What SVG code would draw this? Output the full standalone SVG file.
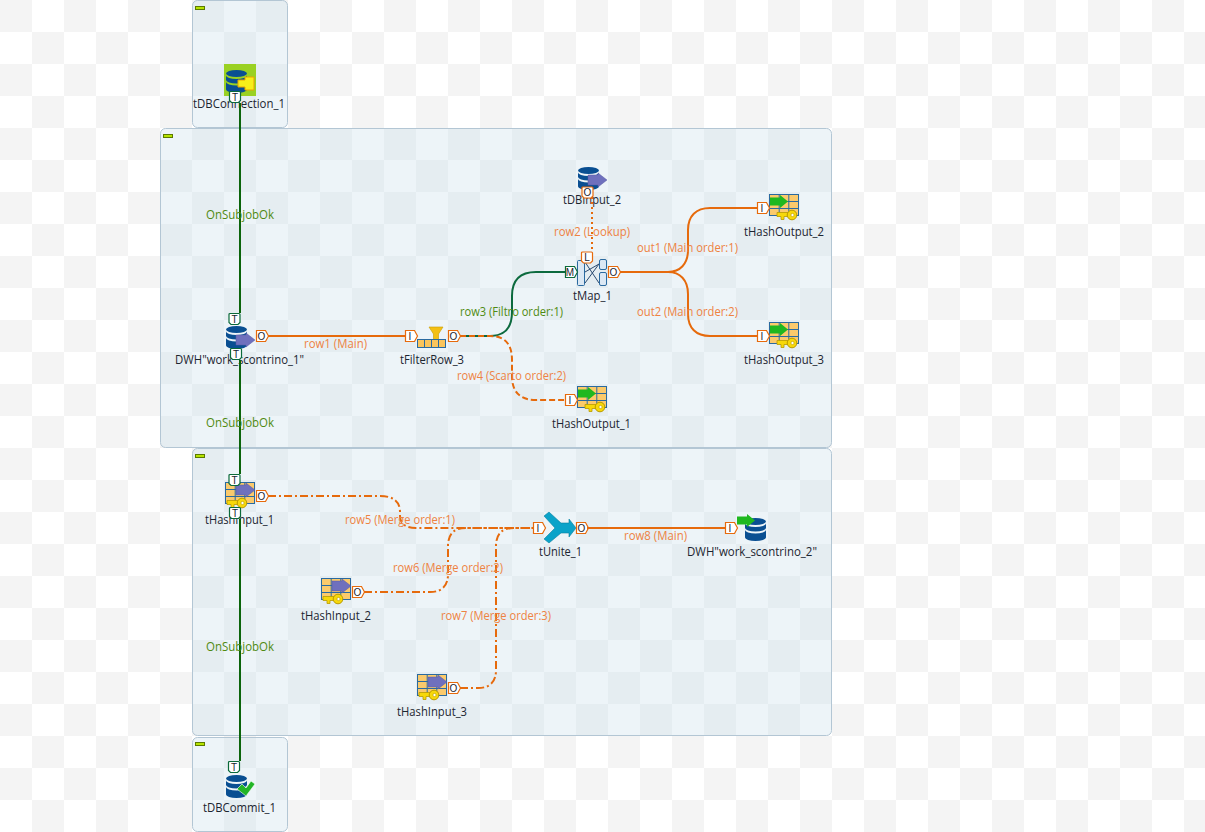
<svg xmlns="http://www.w3.org/2000/svg" width="1205" height="832" viewBox="0 0 1205 832">
<style>
text{font-family:"Open Sans","Noto Sans","Liberation Sans",sans-serif;font-size:12px}
.n{fill:#1c2530}
.l{fill:#ee8242}
.s{fill:#4f8a10}
.p{font-size:10px;fill:#1c2530;text-anchor:middle;font-family:"Liberation Sans",sans-serif}
.sj{fill:url(#cs);stroke:#b3c6d4;stroke-width:1}
.mn{fill:#b6e400;stroke:#5c7a00;stroke-width:1}
.e{fill:none;stroke:#e66a0c;stroke-width:2}
.g{fill:none;stroke:#0b640b;stroke-width:2}
.dd{stroke-dasharray:8 3 2 3}
.da{stroke-dasharray:6 3}
.do{stroke-dasharray:2 3}
.po{fill:#fff;stroke:#e66a0c;stroke-width:1.2}
.pg{fill:#fff;stroke:#0b6a3a;stroke-width:1.2}
.b{fill:#0a4f92}
.t{fill:#dbe8f4;stroke:#2a6aa0}
</style>
<defs>
<pattern id="cb" width="64" height="64" patternUnits="userSpaceOnUse"><rect width="64" height="64" fill="#ffffff"/><rect width="32" height="32" fill="#f4f4f4"/><rect x="32" y="32" width="32" height="32" fill="#f4f4f4"/></pattern>
<pattern id="cs" width="64" height="64" patternUnits="userSpaceOnUse"><rect width="64" height="64" fill="#edf4f8"/><rect width="32" height="32" fill="#e5edf1"/><rect x="32" y="32" width="32" height="32" fill="#e5edf1"/></pattern>
<g id="db"><path class="b" d="M0 3.500A10.500 3.500 0 0 1 21 3.500A10.500 3.500 0 0 1 0 3.500Z"/><path class="b" d="M0 5.500A10.500 3.500 0 0 0 21 5.500V10A10.500 3.500 0 0 1 0 10Z"/><path class="b" d="M0 12A10.500 3.500 0 0 0 21 12V19.500A10.500 3.500 0 0 1 0 19.500Z"/></g>
<path id="pa" d="M0 2H10V0L19 7L10 14V12H0Z" fill="#6f70bd" stroke="#5a5ba5" stroke-width=".5"/>
<path id="ga" d="M0 2.500H10V0L18 6.500L10 13V10.500H0Z" fill="#1fb81f"/>
<g id="grid"><rect width="29" height="21" fill="#fbca6c" stroke="#2a6aa0"/><path d="M9.700 0V21M19.300 0V21M0 7H29M0 14H29" stroke="#2a6aa0" fill="none"/></g>
<g id="key"><path d="M0 2.500H12V6.500H7V9.500H4V6.500H0Z" fill="#f7d80a" stroke="#b89a00" stroke-width=".8"/><circle cx="15" cy="5" r="4.800" fill="#f7d80a" stroke="#b89a00"/><circle cx="15.500" cy="5" r="1.600" fill="#fff" stroke="#b89a00" stroke-width=".6"/></g>
<path id="pr" d="M0 0H9L12 5.500L9 11H0Z"/>
<path id="pt" d="M1 0H10Q11 0 11 1V9L9 11H2L0 9V1Q0 0 1 0Z"/>
</defs>
<rect id="canvas" width="1205" height="832" fill="url(#cb)"/>
<g id="subjobs">
<rect class="sj" x="192.500" y="0.500" width="95" height="127" rx="5"/><rect class="mn" x="195.500" y="6.500" width="9" height="3"/>
<rect class="sj" x="160.500" y="128.500" width="671" height="319" rx="5"/><rect class="mn" x="163.500" y="134.500" width="9" height="3"/>
<rect class="sj" x="192.500" y="448.500" width="639" height="287" rx="5"/><rect class="mn" x="195.500" y="454.500" width="9" height="3"/>
<rect class="sj" x="192.500" y="737.500" width="95" height="94" rx="5"/><rect class="mn" x="195.500" y="742.500" width="9" height="3"/>
</g>
<g id="tDBConnection_1"><rect x="224" y="64" width="32" height="32" fill="#9ad122"/><use href="#db" x="226" y="70"/><path d="M238 80H245V77H254V90H245V87H238Z" fill="#f7ee1a" stroke="#e8a500" stroke-width="1"/>
<text class="n" x="193" y="108" textLength="92" lengthAdjust="spacingAndGlyphs">tDBConnection_1</text><use href="#pt" class="pg" x="229.500" y="91.500"/><text class="p" x="235" y="100.500">T</text></g>
<g id="DWH_work_scontrino_1"><use href="#db" x="226" y="326"/><use href="#pa" x="236" y="333"/><text class="n" x="175" y="364" textLength="129" lengthAdjust="spacingAndGlyphs">DWH"work_scontrino_1"</text>
<use href="#pt" class="pg" x="229" y="313.500"/><text class="p" x="234.500" y="322.500">T</text><use href="#pt" class="pg" x="230.500" y="348.500"/><text class="p" x="236" y="357.500">T</text><use href="#pr" class="po" x="256.500" y="330.500"/><text class="p" x="261.500" y="339.500">O</text></g>
<g id="tFilterRow_3"><path d="M429 327H443L438.500 334V343H433.500V334Z" fill="#f4c015" stroke="#c99a00" stroke-width=".6"/><rect x="417.500" y="339.500" width="28" height="8" fill="#fbc55c" stroke="#2a6aa0"/><path d="M424.500 339.500V347.500M431.500 339.500V347.500M438.500 339.500V347.500" stroke="#2a6aa0"/>
<text class="n" x="400" y="364" textLength="64" lengthAdjust="spacingAndGlyphs">tFilterRow_3</text><use href="#pr" class="po" x="405.500" y="330.500"/><text class="p" x="410" y="339.500">I</text><use href="#pr" class="po" x="448.500" y="330.500"/><text class="p" x="453.500" y="339.500">O</text></g>
<g id="tDBInput_2"><use href="#db" x="578" y="167"/><use href="#pa" x="588" y="173"/><text class="n" x="563" y="204" textLength="58" lengthAdjust="spacingAndGlyphs">tDBInput_2</text><use href="#pt" class="po" x="582" y="187"/><text class="p" x="587.500" y="196">O</text></g>
<g id="tMap_1"><rect class="t" x="577.500" y="260.500" width="7" height="25" rx="1"/><rect class="t" x="599.500" y="259.500" width="7" height="10" rx="1.500"/><rect class="t" x="599.500" y="272.500" width="7" height="13" rx="1.500"/><path d="M585 262L599 283M585 283L599 264M585 272L599 264" stroke="#2a4a70" fill="none"/>
<text class="n" x="573" y="300" textLength="39" lengthAdjust="spacingAndGlyphs">tMap_1</text><use href="#pr" class="pg" x="565.500" y="266.500"/><text class="p" x="570" y="275.500">M</text><use href="#pt" class="po" x="581.500" y="252"/><text class="p" x="587" y="261">L</text><use href="#pr" class="po" x="608.500" y="266.500"/><text class="p" x="613.500" y="275.500">O</text></g>
<g id="tHashOutput_2"><use href="#grid" x="769.500" y="194.500"/><use href="#ga" x="770" y="195"/><use href="#key" x="777" y="210"/><text class="n" x="744" y="236" textLength="80" lengthAdjust="spacingAndGlyphs">tHashOutput_2</text><use href="#pr" class="po" x="757.500" y="202.500"/><text class="p" x="762" y="211.500">I</text></g>
<g id="tHashOutput_3"><use href="#grid" x="769.500" y="322.500"/><use href="#ga" x="770" y="323"/><use href="#key" x="777" y="338"/><text class="n" x="744" y="364" textLength="80" lengthAdjust="spacingAndGlyphs">tHashOutput_3</text><use href="#pr" class="po" x="757.500" y="330.500"/><text class="p" x="762" y="339.500">I</text></g>
<g id="tHashOutput_1"><use href="#grid" x="577.500" y="386.500"/><use href="#ga" x="578" y="387"/><use href="#key" x="585" y="402"/><text class="n" x="552" y="428" textLength="79" lengthAdjust="spacingAndGlyphs">tHashOutput_1</text><use href="#pr" class="po" x="565.500" y="394.500"/><text class="p" x="570" y="403.500">I</text></g>
<g id="tHashInput_1"><use href="#grid" x="225.500" y="482.500"/><use href="#pa" x="236" y="483"/><use href="#key" x="227" y="498"/><text class="n" x="205" y="524" textLength="69" lengthAdjust="spacingAndGlyphs">tHashInput_1</text>
<use href="#pt" class="pg" x="229" y="474.500"/><text class="p" x="234.500" y="483.500">T</text><use href="#pt" class="pg" x="229.500" y="507.500"/><text class="p" x="235" y="516.500">T</text><use href="#pr" class="po" x="256.500" y="490.500"/><text class="p" x="261.500" y="499.500">O</text></g>
<g id="tHashInput_2"><use href="#grid" x="321.500" y="578.500"/><use href="#pa" x="332" y="579"/><use href="#key" x="323" y="594"/><text class="n" x="301" y="620" textLength="70" lengthAdjust="spacingAndGlyphs">tHashInput_2</text><use href="#pr" class="po" x="352.500" y="586.500"/><text class="p" x="357.500" y="595.500">O</text></g>
<g id="tHashInput_3"><use href="#grid" x="417.500" y="674.500"/><use href="#pa" x="428" y="675"/><use href="#key" x="419" y="690"/><text class="n" x="397" y="716" textLength="70" lengthAdjust="spacingAndGlyphs">tHashInput_3</text><use href="#pr" class="po" x="448.500" y="682.500"/><text class="p" x="453.500" y="691.500">O</text></g>
<g id="tUnite_1"><path d="M544 516L549 512L561 523H569V519L576 528L569 537V533H561L549 543L544 539L555 528Z" fill="#0ba3c9" stroke="#0a7fa0" stroke-width=".6"/><text class="n" x="539" y="556" textLength="43" lengthAdjust="spacingAndGlyphs">tUnite_1</text><use href="#pr" class="po" x="533.500" y="522.500"/><text class="p" x="538" y="531.500">I</text><use href="#pr" class="po" x="576.500" y="522.500"/><text class="p" x="581.500" y="531.500">O</text></g>
<g id="DWH_work_scontrino_2"><use href="#db" x="745" y="518"/><use href="#ga" x="737" y="514"/><text class="n" x="687" y="556" textLength="130" lengthAdjust="spacingAndGlyphs">DWH"work_scontrino_2"</text><use href="#pr" class="po" x="725.500" y="522.500"/><text class="p" x="730" y="531.500">I</text></g>
<g id="tDBCommit_1"><use href="#db" x="226" y="775"/><path d="M237 789L242 784L246 788L251 781L255 784L246 796Z" fill="#22b526" stroke="#fff" stroke-width=".6"/><text class="n" x="203" y="812" textLength="73" lengthAdjust="spacingAndGlyphs">tDBCommit_1</text><use href="#pt" class="pg" x="228.500" y="761.500"/><text class="p" x="234" y="770.500">T</text></g>
<g id="connectors">
<path class="g" d="M240 103V313"/><path class="g" d="M240 360V474"/><path class="g" d="M240 519V761"/>
<path class="e" d="M268 336H405"/>
<path fill="none" stroke="#0c6a3e" stroke-width="2" d="M460 336H490C505 336 512 328 512 312V296C512 280 520 272 536 272H565"/>
<path class="e da" d="M460 336H490C505 336 512 344 512 360V376C512 392 520 400 536 400H565"/>
<path class="e do" d="M592 197V252"/>
<path class="e" d="M620 272H668C680 272 688 264 688 250V230C688 216 696 208 710 208H757"/>
<path class="e" d="M668 272C680 272 688 280 688 294V314C688 328 696 336 710 336H757"/>
<path class="e" d="M587 528H725"/>
<path class="e dd" d="M268 496H380C394 496 400 502 400 512V516C400 524 406 528 416 528H533"/>
<path class="e dd" d="M364 592H430C442 592 448 586 448 574V546C448 534 454 528 466 528H533"/>
<path class="e dd" d="M460 688H478C490 688 496 682 496 670V546C496 534 502 528 514 528H533"/>
<text class="s" x="206" y="219" textLength="68" lengthAdjust="spacingAndGlyphs">OnSubjobOk</text>
<text class="s" x="206" y="427" textLength="68" lengthAdjust="spacingAndGlyphs">OnSubjobOk</text>
<text class="s" x="206" y="651" textLength="68" lengthAdjust="spacingAndGlyphs">OnSubjobOk</text>
<text class="l" x="304" y="348" textLength="63" lengthAdjust="spacingAndGlyphs">row1 (Main)</text>
<text class="l" x="554" y="236" textLength="76" lengthAdjust="spacingAndGlyphs">row2 (Lookup)</text>
<text class="s" x="460" y="316" textLength="103" lengthAdjust="spacingAndGlyphs">row3 (Filtro order:1)</text>
<text class="l" x="457" y="380" textLength="109" lengthAdjust="spacingAndGlyphs">row4 (Scarto order:2)</text>
<text class="l" x="637" y="252" textLength="101" lengthAdjust="spacingAndGlyphs">out1 (Main order:1)</text>
<text class="l" x="637" y="316" textLength="101" lengthAdjust="spacingAndGlyphs">out2 (Main order:2)</text>
<text class="l" x="345" y="524" textLength="110" lengthAdjust="spacingAndGlyphs">row5 (Merge order:1)</text>
<text class="l" x="393" y="572" textLength="110" lengthAdjust="spacingAndGlyphs">row6 (Merge order:2)</text>
<text class="l" x="441" y="620" textLength="110" lengthAdjust="spacingAndGlyphs">row7 (Merge order:3)</text>
<text class="l" x="624" y="540" textLength="63" lengthAdjust="spacingAndGlyphs">row8 (Main)</text>
</g>
</svg>
